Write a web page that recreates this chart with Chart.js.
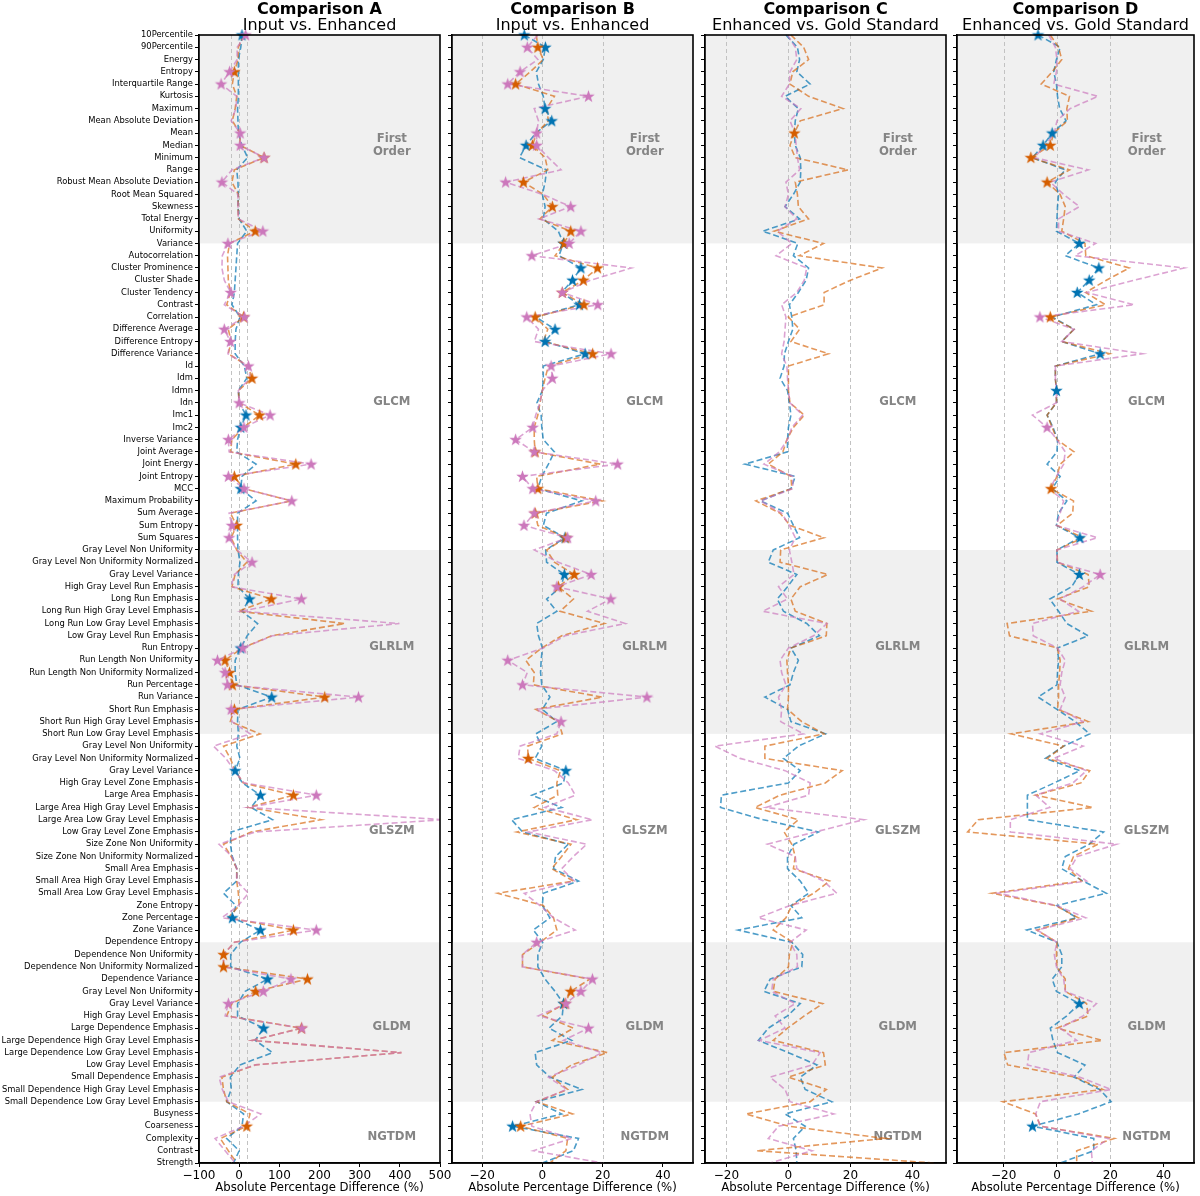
<!DOCTYPE html>
<html>
<head>
<meta charset="utf-8">
<script src="https://cdn.jsdelivr.net/npm/chart.js@4.4.1/dist/chart.umd.min.js"></script>
<style>
html, body { margin: 0; padding: 0; background: #fff; overflow: hidden; }
#wrap { position: relative; width: 1200px; height: 1196px; }
canvas { position: absolute; top: 0; }
</style>
</head>
<body>
<div id="wrap">
  <canvas id="cA"></canvas>
  <canvas id="cB"></canvas>
  <canvas id="cC"></canvas>
  <canvas id="cD"></canvas>
</div>
<script>
const features = [
  '10Percentile', '90Percentile', 'Energy', 'Entropy', 'Interquartile Range', 'Kurtosis', 'Maximum',
  'Mean Absolute Deviation', 'Mean', 'Median', 'Minimum', 'Range', 'Robust Mean Absolute Deviation',
  'Root Mean Squared', 'Skewness', 'Total Energy', 'Uniformity', 'Variance',
  'Autocorrelation', 'Cluster Prominence', 'Cluster Shade', 'Cluster Tendency', 'Contrast', 'Correlation',
  'Difference Average', 'Difference Entropy', 'Difference Variance', 'Id', 'Idm', 'Idmn', 'Idn', 'Imc1',
  'Imc2', 'Inverse Variance', 'Joint Average', 'Joint Energy', 'Joint Entropy', 'MCC',
  'Maximum Probability', 'Sum Average', 'Sum Entropy', 'Sum Squares',
  'Gray Level Non Uniformity', 'Gray Level Non Uniformity Normalized', 'Gray Level Variance',
  'High Gray Level Run Emphasis', 'Long Run Emphasis', 'Long Run High Gray Level Emphasis',
  'Long Run Low Gray Level Emphasis', 'Low Gray Level Run Emphasis', 'Run Entropy',
  'Run Length Non Uniformity', 'Run Length Non Uniformity Normalized', 'Run Percentage', 'Run Variance',
  'Short Run Emphasis', 'Short Run High Gray Level Emphasis', 'Short Run Low Gray Level Emphasis',
  'Gray Level Non Uniformity', 'Gray Level Non Uniformity Normalized', 'Gray Level Variance',
  'High Gray Level Zone Emphasis', 'Large Area Emphasis', 'Large Area High Gray Level Emphasis',
  'Large Area Low Gray Level Emphasis', 'Low Gray Level Zone Emphasis', 'Size Zone Non Uniformity',
  'Size Zone Non Uniformity Normalized', 'Small Area Emphasis', 'Small Area High Gray Level Emphasis',
  'Small Area Low Gray Level Emphasis', 'Zone Entropy', 'Zone Percentage', 'Zone Variance',
  'Dependence Entropy', 'Dependence Non Uniformity', 'Dependence Non Uniformity Normalized',
  'Dependence Variance', 'Gray Level Non Uniformity', 'Gray Level Variance', 'High Gray Level Emphasis',
  'Large Dependence Emphasis', 'Large Dependence High Gray Level Emphasis',
  'Large Dependence Low Gray Level Emphasis', 'Low Gray Level Emphasis', 'Small Dependence Emphasis',
  'Small Dependence High Gray Level Emphasis', 'Small Dependence Low Gray Level Emphasis',
  'Busyness', 'Coarseness', 'Complexity', 'Contrast', 'Strength'
];

const groupNames = ['First\nOrder', 'GLCM', 'GLRLM', 'GLSZM', 'GLDM', 'NGTDM'];
const groupStart = [0, 18, 42, 58, 74, 88];
const groupEnd = [17, 41, 57, 73, 87, 92];
const groupLabelAt = [8.97, 29.9, 49.9, 64.9, 80.9, 89.9];

const refLines = [-20, 0, 20];
const xTitle = 'Absolute Percentage Difference (%)';

// Comparison A: Input vs. Enhanced
const aBlue = [7,4,-2,-2,-2,-2,-4,-3,-2,7,21,-6,-3,-2,-3,0,19,-4,
  -6,-8,-10,-12,-18,2,-8,-10,-10,13,19,-2,0,17,4,-4,-6,42,7,4,42,-4,-4,-4,
  -3,2,-2,-3,26,7,46,20,4,-10,-10,-6,81,-3,-4,-2,
  -6,2,-10,8,53,30,83,-20,-22,-17,-6,-6,-39,-8,-17,53,
  3,-21,-21,71,15,-4,-4,61,40,83,2,-22,-20,-31,
  11,7,-31,0,-14];
const aOrange = [12,-2,-3,-12,-17,-6,-10,-17,2,2.5,62,-12,-18,-2,-3,-2,40,-24,
  -29,-28,-27,-22,-31,11,-27,-20,-27,22,32,-2,0,51,11,-18,-22,141,-12,11,130,-22,-6,-20,
  -6,19,-10,-18,80,-2,263,81,7,-35,-24,-17,213,-12,-22,52,
  -39,-22,-10,10,135,23,204,30,-39,-20,-6,-6,-2,0,-27,135,
  -12,-39,-39,170,41,-18,-31,155,33,404,40,-43,-39,-31,
  27,19,-47,-27,-6];
const aPink = [16,-5,-5,-24,-45,-6,-8,-20,2.5,2.5,62,-18,-43,-3,-3,-2,59,-28,
  -42,-43,-37,-21,-37,13,-37,-22,-28,23,27,-2,0,77,12,-27,-25,179,-27,12,131,-25,-18,-25,
  -6,32,-12,-20,155,7,399,83,9,-54,-35,-29,297,-20,-18,27,
  -64,-33,-12,12,192,23,510,40,-50,-18,-6,-6,23,-2,-43,192,
  -12,-39,-39,129,60,-27,-35,156,33,404,40,-50,-42,-27,
  54,11,-60,-35,-10];
const aBlueStar = [0, 31, 32, 37, 46, 50, 54, 60, 62, 72, 73, 77, 81];
const aOrangeStar = [3, 10, 16, 23, 28, 31, 35, 36, 40, 46, 51, 52, 53, 54, 55, 62, 73, 75, 76, 77, 78, 81, 89];
const aPinkStar = [0, 3, 4, 8, 9, 10, 12, 16, 17, 21, 23, 24, 25, 27, 30, 31, 32, 33, 35, 36, 37, 38, 40, 41,
  43, 46, 50, 51, 52, 53, 54, 55, 62, 73, 77, 78, 79, 81];
const aTicks = [-100, 0, 100, 200, 300, 400, 500];

// Comparison B: Input vs. Enhanced
const bBlue = [-6,1,0.3,-2,-1.3,0.3,0.9,3.1,-2.2,-5.4,-7.6,1.4,0.9,0,0.9,0.3,5.3,7,
  5.5,12.8,10,6.4,12.3,-2.2,4.2,0.9,14.2,0.3,0.3,0,-1.8,-0.4,-0.2,0.3,4,2,-0.2,-1.5,13.1,1.4,0.3,7.5,
  1.1,1.4,7.3,6.2,1.4,4.8,-1.9,-1.3,0,-0.4,-0.6,-0.2,2.5,0,4.8,-2.2,
  -0.2,-2.4,7.8,7,-3.5,6.4,-10.2,-6.6,8.6,4.4,3.7,12,0.3,0,2.5,-3,
  0.1,-1.5,-1.5,0.9,4.2,7,6.6,2.2,9.7,-2.4,-1.9,2.5,13.1,-1.9,
  6.4,-9.9,12,10.3,0];
const bOrange = [-2,-1.5,0.3,-4,-8.9,4,1.4,2,-1.9,-3.3,0.9,1.8,-6.3,0.3,3.3,-0.8,9.4,7.2,
  4.2,18.3,13.6,6.6,13.8,-2.4,1.8,0.3,16.7,2,0.9,0,-0.8,-1.5,-2.7,-2.7,-2.4,19.2,-1.9,-1.5,19.9,-2.4,-1.5,7.8,
  1.4,4,10.6,5.3,10.3,5.9,20.6,6.4,-0.2,-5.5,-2.7,-3,19.9,-2.2,5.3,6.6,
  -4.9,-4.7,6,4.8,5.1,-2.7,11.4,-8.5,9.5,6.4,3.1,10.3,-14.8,0.3,3.7,4.8,
  -0.8,-6.6,-6.6,15.8,9.4,7.5,0.3,10.3,3.3,21.6,9.7,3.3,8.4,-1.9,
  10,-7.2,8.4,7.8,2.5];
const bPink = [-1.5,-5,-1.5,-7.4,-11.5,15.3,-2.7,-1.3,-1.9,-1.9,2,6.2,-12.2,0.1,9.4,-1.1,12.8,8.9,
  -3.5,29.5,16,6.6,18.4,-5.2,-1.3,-2.7,22.8,2.9,3.3,0,-0.8,-2.2,-3.2,-8.9,-2.7,25,-6.6,-3.2,17.7,-2.7,-6.1,8.4,
  -2.7,5.3,16.2,4.8,22.7,15,27.5,7.5,0.3,-11.5,-5,-6.6,34.7,-2.2,6.2,4.8,
  -7.4,-8,4,8.6,10.9,0.9,16.6,-4.7,14.7,10.3,6.4,10.6,-6,-0.8,3.7,10.9,
  -1.9,-6.6,-6.6,16.6,12.8,7.8,-1.3,15.3,7,19.7,12,2,8.1,-1.9,
  -4.1,-3.5,9.7,-3,19.9];
const bBlueStar = [0, 1, 6, 7, 9, 17, 19, 20, 22, 24, 25, 26, 41, 44, 60, 79, 89];
const bOrangeStar = [1, 4, 9, 12, 14, 16, 17, 19, 20, 21, 22, 23, 26, 34, 37, 39, 41, 44, 45, 59, 78, 79, 89];
const bPinkStar = [1, 3, 4, 5, 8, 9, 12, 14, 16, 17, 18, 21, 22, 23, 26, 27, 28, 32, 33, 34, 35, 36, 37, 38,
  39, 40, 41, 44, 45, 46, 51, 53, 54, 56, 74, 77, 78, 79, 81];
const bTicks = [-20, 0, 20, 40];

// Comparison C: Enhanced vs. Gold Standard
const cBlue = [-0.8,2.9,3.6,2.7,7,-1.1,3.2,2.2,1.9,2.2,3.8,4,3.8,1.6,-1.1,3.6,-8.3,3,
  1.6,6.5,5.7,3.2,0.3,1.1,1.4,0,-1.3,-1.4,-2.7,-0.3,0.3,0.8,0,-0.3,-0.3,-14,2.2,0.8,-9,-0.3,1.6,3.6,
  -4.9,-6.5,2.7,-0.3,-3.6,-1.6,5.9,10,0.8,3.2,1.6,0.5,-7.6,-0.3,0.8,11.9,
  3.2,-1.6,3.8,0,-21.6,-21.9,-8.1,9.7,1.8,-0.3,-0.3,3.8,6.5,0.8,4.3,-16.2,
  1.1,4.6,4.3,-5.9,-7.9,3.8,-0.3,-6.5,-9.7,0,9.2,3.8,5.4,14,
  -1.1,5.4,1.6,2.5,2.7];
const cOrange = [0.8,4.9,6.5,1.4,0.5,6.5,17.6,3.8,1.9,0.5,2.2,19.2,2.2,2.9,3.2,6.5,-4.6,11.3,
  3.5,30.2,20,11.5,11.5,0,3.6,0.8,12.9,0,0,0,0.5,5.1,1.6,-0.5,-1.8,-6.5,0.8,1.1,-10.5,-2.7,0.5,11.5,
  -2.5,-2.7,12.7,3.8,0.8,2.2,12.4,12.2,0.8,-0.5,-0.3,0,0,-0.3,4.3,11.5,
  -7.6,-7.6,17.3,11.9,-2.7,-10.8,3.2,-1.4,1.1,2.2,1.6,13.3,8.1,1.1,-0.8,-4.9,
  1.4,0.3,0,-4.3,-4.9,11.1,5.1,-0.3,-4.9,11.3,11.9,0,12.2,7,
  -13.7,0,31.3,-10.2,47];
const cPink = [-0.3,2.2,2.7,0.5,0.3,-2.2,4,0.5,2.1,2.5,2.9,3.6,-0.8,0,-1.1,2.7,-3.6,1.1,
  -4,5.9,5.1,2.7,-2.2,-0.8,-1.1,-1.4,-2.2,-0.5,-0.3,0,0.5,4.6,1.1,-0.3,-2.9,-7.9,1.4,1.4,-9,-2.2,0.3,2.2,
  0.3,1.1,1.8,-3.2,-0.3,-8.3,12.4,8.1,0,-2.7,-2.2,-0.8,-3.2,-2.2,-2.5,4.9,
  -23.7,-15.6,-1.1,7,6.5,-7.2,24.3,8.6,-6.8,2.2,2.7,11.3,15.6,0.5,-9.7,5.7,
  0.5,2.7,2.9,-4.9,-5.4,2.2,-4.3,-1.1,-9.4,10.2,7.6,-5.9,-1.1,0.5,
  14.6,-3.2,-6.5,7.6,-5.9];
const cBlueStar = [];
const cOrangeStar = [8];
const cPinkStar = [];
const cTicks = [-20, 0, 20, 40];

// Comparison D: Enhanced vs. Gold Standard
const dBlue = [-7.1,1.2,-0.2,-1.2,-0.2,0.2,1,3.4,-1.8,-5.2,-9.2,3.1,-0.6,0.6,0.2,0,-0.2,8.4,
  3.1,15.7,12.1,7.6,14.8,-1.8,6.4,1.8,16.2,-0.6,-0.6,-0.2,-0.2,-3.7,-1.5,0.2,0,-3.7,1.2,-1.8,3.7,0.6,-0.2,8.6,
  0,0,8.4,5.5,-2.7,0.6,3.7,11.7,0.2,0.6,0.2,0,-7.1,0,6.8,12.3,
  2.5,-4.3,8.6,-1,-11.1,-11.1,-11.1,17.5,12.1,3.1,1.8,9.8,18.5,0,7.4,-11.3,
  0,1.8,1.8,-1.8,-0.2,8.4,3.7,-2.5,-1.5,0.2,10.5,6.4,16,20.3,
  8,-9.2,13.8,13.8,1.2];
const dOrange = [-2.5,0.6,1.8,-1.8,-5.9,4.7,3.7,3.9,-1.2,-2.5,-9.8,4.7,-3.7,1.2,3.1,2.5,1.8,10.5,
  10.8,27.1,18.5,10.8,18.2,-2.5,6.4,1.8,19.7,-0.6,-0.6,-0.2,-0.2,-3.7,-1.8,0,6.4,1.2,0,-2.2,6.2,5.9,0,9.8,
  0,0.2,11.7,12.1,0.2,12.9,-18.7,-17.8,0.2,1.2,1,0.6,0.6,0.2,11.7,-17.2,
  2.5,-3.7,12.3,9,-8,13.5,-29.5,-33.5,15.4,6.2,4.3,9.2,-24.4,-0.6,8,-7.6,
  0,-0.2,0,3.1,3.1,11.1,11.7,0,17,-19.9,-18.5,6.8,17.2,-20.3,
  -8,-6.2,21.5,7.4,7.4];
const dPink = [-3.1,-0.6,0,-0.2,-1.2,15.4,4.9,0,-1,-4.3,-8.6,11.7,-2.5,2.5,8.4,0.6,0.6,14.5,
  6.8,47.7,29,11.1,28.9,-6.4,6.4,1.8,32,-0.6,-0.6,-0.2,-0.2,-9.2,-3.7,0,3.1,2.5,-0.2,-2.7,2.5,1.2,-0.2,15.1,
  0,0,16.2,9.8,1.2,8,-9.2,-8.9,0.2,3.1,1.8,1.2,3.1,1.2,9.8,-6.2,
  9.8,-1.2,11.1,6,-8,-2.7,-17.5,-17.5,22.4,7.6,4.9,11.1,-22.1,-0.2,10.8,-7.4,
  0,-1,-0.2,2.5,3.1,14.8,9.8,1.2,7.4,-10.5,-11.1,8.6,20.3,-6.2,
  -8,-6.2,19.4,12.9,13.3];
const dBlueStar = [0, 8, 9, 17, 19, 20, 21, 26, 29, 41, 44, 79, 89];
const dOrangeStar = [9, 10, 12, 23, 37];
const dPinkStar = [23, 32, 44];
const dTicks = [-20, 0, 20, 40];

const FONT = '"DejaVu Sans", sans-serif';
const lineColors = ['rgba(1,115,178,0.7)', 'rgba(213,94,0,0.64)', 'rgba(204,120,188,0.68)'];
const starColors = ['#0173b2', '#d55e00', '#cc78bc'];

function starImage(color) {
  const s = 15, R = 6.6, r = 2.6;
  const c = document.createElement('canvas');
  c.width = s; c.height = s;
  const g = c.getContext('2d');
  g.beginPath();
  for (let k = 0; k < 10; k++) {
    const rad = k % 2 ? r : R;
    const a = -Math.PI / 2 + k * Math.PI / 5;
    const px = s / 2 + rad * Math.cos(a), py = s / 2 + 0.4 + rad * Math.sin(a);
    if (k) g.lineTo(px, py); else g.moveTo(px, py);
  }
  g.closePath();
  g.fillStyle = color;
  g.fill();
  return c;
}
const stars = starColors.map(starImage);

function fmtTick(v) {
  return v < 0 ? '\u2212' + Math.abs(v) : String(v);
}

const panels = [
  { id: 'cA', title: 'Comparison A', sub: 'Input vs. Enhanced', series: [aBlue, aOrange, aPink],
    sig: [aBlueStar, aOrangeStar, aPinkStar], ticks: aTicks, min: -100, max: 500,
    plotLeft: 199, yw: 199, padR: 15, labels: true },
  { id: 'cB', title: 'Comparison B', sub: 'Input vs. Enhanced', series: [bBlue, bOrange, bPink],
    sig: [bBlueStar, bOrangeStar, bPinkStar], ticks: bTicks, min: -30, max: 50,
    plotLeft: 452, yw: 30, padR: 15, labels: false },
  { id: 'cC', title: 'Comparison C', sub: 'Enhanced vs. Gold Standard', series: [cBlue, cOrange, cPink],
    sig: [cBlueStar, cOrangeStar, cPinkStar], ticks: cTicks, min: -26.9, max: 50.8,
    plotLeft: 705, yw: 30, padR: 15, labels: false },
  { id: 'cD', title: 'Comparison D', sub: 'Enhanced vs. Gold Standard', series: [dBlue, dOrange, dPink],
    sig: [dBlueStar, dOrangeStar, dPinkStar], ticks: dTicks, min: -37.5, max: 51.4,
    plotLeft: 957, yw: 30, padR: 2, labels: false }
];
const plotW = 241;

function decorPlugin(p) {
  return {
    id: 'decor' + p.id,
    beforeDatasetsDraw(chart) {
      const { ctx, chartArea: { left, right, top, bottom }, scales: { x, y } } = chart;
      ctx.save();
      // alternating group bands
      ctx.fillStyle = '#f0f0f0';
      groupStart.forEach((s, g) => {
        if (g % 2 === 0) {
          const y0 = y.getPixelForValue(s), y1 = y.getPixelForValue(groupEnd[g]);
          ctx.fillRect(left, y0, right - left, y1 - y0);
        }
      });
      // reference lines
      ctx.strokeStyle = '#c2c2c2';
      ctx.lineWidth = 1;
      ctx.setLineDash([4, 3]);
      refLines.forEach(v => {
        const px = Math.round(x.getPixelForValue(v)) + 0.5;
        ctx.beginPath();
        ctx.moveTo(px, top);
        ctx.lineTo(px, bottom);
        ctx.stroke();
      });
      ctx.setLineDash([]);
      // group names
      ctx.fillStyle = '#858585';
      ctx.font = 'bold 11.7px ' + FONT;
      ctx.textAlign = 'center';
      ctx.textBaseline = 'middle';
      const cx = left + 0.8 * (right - left);
      groupNames.forEach((name, g) => {
        const lines = name.split('\n');
        const yc = y.getPixelForValue(groupLabelAt[g]);
        lines.forEach((ln, k) => ctx.fillText(ln, cx, yc + (k - (lines.length - 1) / 2) * 13));
      });
      ctx.restore();
    },
    afterDraw(chart) {
      const { ctx, chartArea: { left, right, top, bottom } } = chart;
      ctx.save();
      ctx.strokeStyle = '#000';
      ctx.lineWidth = 1.6;
      ctx.strokeRect(left, top, right - left, bottom - top);
      ctx.fillStyle = '#000';
      ctx.textAlign = 'center';
      ctx.textBaseline = 'alphabetic';
      const cx = (left + right) / 2;
      ctx.font = 'bold 16px ' + FONT;
      ctx.fillText(p.title, cx, 14);
      ctx.font = '16px ' + FONT;
      ctx.fillText(p.sub, cx, 30);
      ctx.restore();
    }
  };
}

panels.forEach(p => {
  const canvas = document.getElementById(p.id);
  canvas.width = p.yw + plotW + p.padR;
  canvas.height = 1196;
  canvas.style.left = (p.plotLeft - p.yw) + 'px';

  const datasets = [];
  p.series.forEach((vals, s) => {
    datasets.push({
      data: vals,
      borderColor: lineColors[s],
      borderWidth: 1.6,
      borderDash: [6, 3],
      pointRadius: 0,
      fill: false,
      tension: 0,
      order: 6 - s
    });
  });
  p.series.forEach((vals, s) => {
    datasets.push({
      data: vals.map((v, i) => p.sig[s].includes(i) ? v : null),
      showLine: false,
      pointStyle: stars[s],
      pointRadius: 5,
      borderColor: 'rgba(0,0,0,0)',
      backgroundColor: starColors[s],
      order: 3 - s
    });
  });

  new Chart(canvas, {
    type: 'line',
    data: { labels: features, datasets: datasets },
    options: {
      indexAxis: 'y',
      responsive: false,
      animation: false,
      devicePixelRatio: 1,
      layout: { padding: { top: 35, right: p.padR, bottom: 0, left: 0 } },
      plugins: { legend: { display: false }, tooltip: { enabled: false }, title: { display: false } },
      scales: {
        x: {
          type: 'linear',
          position: 'bottom',
          min: p.min,
          max: p.max,
          afterBuildTicks: scale => { scale.ticks = p.ticks.map(v => ({ value: v })); },
          afterFit: scale => { scale.height = 33; },
          grid: { drawOnChartArea: false, drawTicks: true, tickLength: 4, tickColor: '#000' },
          border: { display: true, color: '#000', width: 1.6 },
          ticks: { color: '#000', font: { family: FONT, size: 12 }, padding: 2, maxRotation: 0,
            autoSkip: false, callback: v => fmtTick(v) },
          title: { display: true, text: xTitle, color: '#000', font: { family: FONT, size: 11.7 },
            padding: { top: 0, bottom: 1 } }
        },
        y: {
          type: 'category',
          position: 'left',
          afterFit: scale => { scale.width = p.yw; },
          grid: { drawOnChartArea: false, drawTicks: true, tickLength: 4, tickColor: '#000' },
          border: { display: true, color: '#000', width: 1.6 },
          ticks: { color: '#000', font: { family: FONT, size: 8.4 }, padding: 2, autoSkip: false,
            callback: (v, i) => p.labels ? features[i] : '' }
        }
      }
    },
    plugins: [decorPlugin(p)]
  });
});
</script>
</body>
</html>
